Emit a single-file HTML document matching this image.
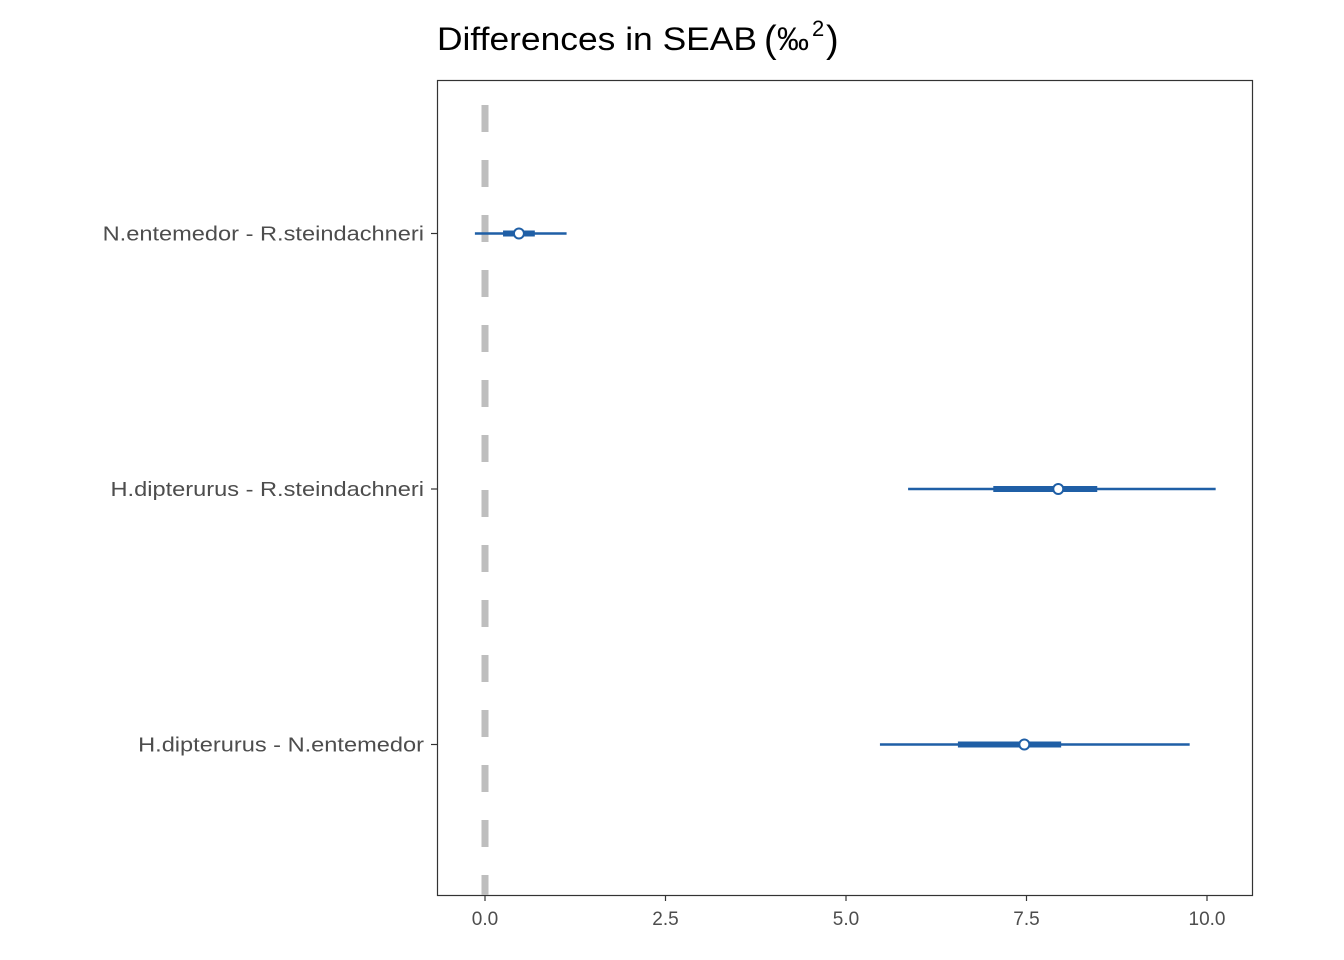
<!DOCTYPE html>
<html><head><meta charset="utf-8">
<style>
html,body{margin:0;padding:0;background:#fff;}
svg{display:block;font-family:"Liberation Sans",Arial,sans-serif;}
</style></head>
<body>
<svg id="chart" width="1344" height="960" viewBox="0 0 1344 960">
  <text y="50" font-size="32" fill="#000"><tspan x="437" textLength="320" lengthAdjust="spacingAndGlyphs">Differences in SEAB</tspan><tspan x="764" y="52" font-size="38">(</tspan><tspan x="777" y="50">‰</tspan><tspan x="812" y="36" font-size="22">2</tspan><tspan x="826" y="52" font-size="38">)</tspan></text>
  <rect x="437.5" y="80.5" width="815" height="815" fill="#fff" stroke="#333" stroke-width="1.2"/>
  <g id="marks"></g>
</svg>
<script>
const categories = ["N.entemedor - R.steindachneri","H.dipterurus - R.steindachneri","H.dipterurus - N.entemedor"];
const lowOuter = [-0.14, 5.86, 5.47];
const highOuter = [1.13, 10.12, 9.76];
const lowInner = [0.25, 7.04, 6.55];
const highInner = [0.69, 8.48, 7.98];
const pointEst = [0.47, 7.94, 7.47];
const xTicks = [0, 2.5, 5, 7.5, 10];
const xTickLabels = ["0.0","2.5","5.0","7.5","10.0"];
const refValue = 0;

const NS="http://www.w3.org/2000/svg";
const svg=document.getElementById('chart');
const g=document.getElementById('marks');
const x=v=>485+v*72.2;
const yPos=i=>233.5+i*255.5;
function mk(tag,attrs,parent){const e=document.createElementNS(NS,tag);for(const k in attrs)e.setAttribute(k,attrs[k]);(parent||g).appendChild(e);return e;}

const ref=mk('line',{x1:x(refValue),x2:x(refValue),y1:105,y2:895,stroke:'#bebebe','stroke-width':7,'stroke-dasharray':'27 28'});



xTicks.forEach((t,i)=>{
  const tk=mk('line',{x1:x(t),x2:x(t),y1:895,y2:901,stroke:'#333','stroke-width':1.2},svg);
  
  
  const tl=mk('text',{x:x(t),y:925,'text-anchor':'middle','font-size':19,fill:'#4d4d4d'},svg);
  tl.textContent=xTickLabels[i];
  
  
});

categories.forEach((c,i)=>{
  const y=yPos(i);
  const tk=mk('line',{x1:431,x2:437,y1:y,y2:y,stroke:'#333','stroke-width':1.2},svg);
  
  
  const lb=mk('text',{x:424,y:y+7,'text-anchor':'end','font-size':20,fill:'#4d4d4d'},svg);
  lb.textContent=c;
  
  
  const w=lb.getComputedTextLength();
  lb.setAttribute('textLength', (w*1.18).toFixed(1));
  lb.setAttribute('lengthAdjust','spacingAndGlyphs');

  const o=mk('line',{x1:x(lowOuter[i]),x2:x(highOuter[i]),y1:y,y2:y,stroke:'#1f5fa6','stroke-width':2.6});
  
  
  const n=mk('line',{x1:x(lowInner[i]),x2:x(highInner[i]),y1:y,y2:y,stroke:'#1f5fa6','stroke-width':6});
  
  
  const p=mk('circle',{cx:x(pointEst[i]),cy:y,r:5,fill:'#fff',stroke:'#1f5fa6','stroke-width':2});
  
  
});
</script>
</body></html>
